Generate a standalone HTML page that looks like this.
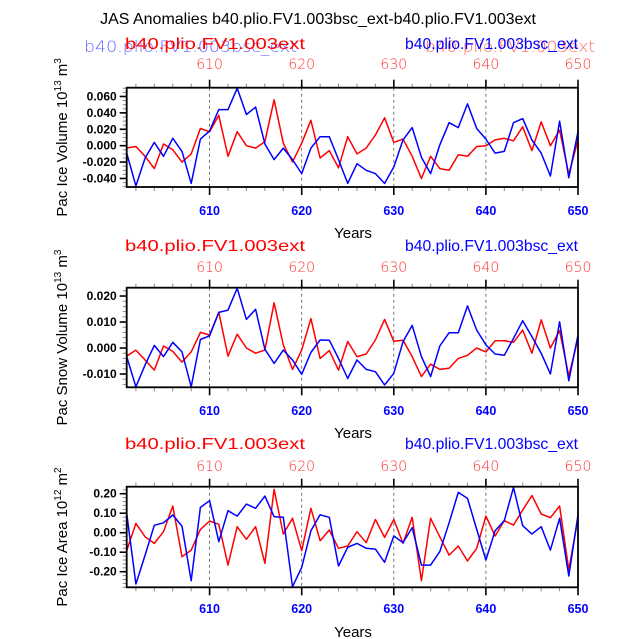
<!DOCTYPE html>
<html><head><meta charset="utf-8"><style>
body{margin:0;background:#fff;}
svg{display:block;font-family:"Liberation Sans",sans-serif;}
</style></head><body>
<svg id="chart" width="638" height="639" viewBox="0 0 638 639" xmlns="http://www.w3.org/2000/svg">
<text x="318" y="24" font-size="16" text-anchor="middle">JAS Anomalies b40.plio.FV1.003bsc_ext-b40.plio.FV1.003ext</text>
</svg>
<script>
const years = [];
for (let y = 601; y <= 650; y++) years.push(y);
const iceVolExt = [-0.003,-0.001,-0.013,-0.028,0.002,-0.005,-0.020,-0.010,0.021,0.017,0.037,-0.013,0.017,0.000,-0.003,0.005,0.056,0.003,-0.020,0.003,0.031,-0.015,-0.006,-0.027,0.011,-0.010,-0.003,0.013,0.034,0.004,0.008,-0.013,-0.040,-0.013,-0.028,-0.030,-0.011,-0.013,-0.001,0.000,0.007,0.009,0.006,0.023,-0.006,0.029,0.000,0.019,-0.035,0.007];
const iceVolBsc = [-0.009,-0.049,-0.015,0.004,-0.013,0.009,-0.007,-0.046,0.008,0.018,0.044,0.044,0.070,0.038,0.047,0.002,-0.017,-0.003,-0.017,-0.034,-0.003,0.011,0.011,-0.017,-0.046,-0.022,-0.030,-0.034,-0.046,-0.026,0.007,0.022,-0.014,-0.034,0.001,0.028,0.022,0.051,0.021,0.008,-0.009,-0.007,0.028,0.033,0.007,-0.009,-0.037,0.030,-0.039,0.017];
const snowVolExt = [-0.0031,-0.0008,-0.0046,-0.0085,0.0008,-0.0013,-0.0054,-0.0015,0.0060,0.0050,0.0137,-0.0031,0.0053,0.0000,-0.0020,-0.0008,0.0174,0.0012,-0.0082,-0.0008,0.0113,-0.0040,-0.0010,-0.0085,0.0025,-0.0033,-0.0023,0.0031,0.0110,0.0026,0.0030,-0.0033,-0.0110,-0.0062,-0.0082,-0.0078,-0.0040,-0.0028,0.0000,-0.0015,0.0028,0.0028,0.0022,0.0069,-0.0020,0.0108,0.0000,0.0067,-0.0108,0.0037];
const snowVolBsc = [-0.0033,-0.0149,-0.0065,0.0010,-0.0033,0.0022,-0.0015,-0.0149,0.0033,0.0047,0.0137,0.0146,0.0230,0.0110,0.0149,-0.0005,-0.0059,-0.0008,-0.0046,-0.0101,-0.0017,0.0031,0.0030,-0.0040,-0.0117,-0.0046,-0.0082,-0.0091,-0.0142,-0.0097,0.0024,0.0087,-0.0033,-0.0110,0.0008,0.0059,0.0059,0.0162,0.0069,0.0012,-0.0023,-0.0028,0.0037,0.0105,0.0044,-0.0020,-0.0100,0.0101,-0.0126,0.0050];
const iceAreaExt = [-0.092,0.048,-0.021,-0.055,0.005,0.137,-0.123,-0.089,0.017,0.060,0.043,-0.166,0.031,-0.034,0.031,-0.157,0.222,-0.007,0.074,-0.092,0.125,-0.041,0.014,-0.080,-0.068,0.005,-0.051,0.068,-0.024,0.068,-0.055,0.079,-0.246,0.074,-0.021,-0.115,-0.068,-0.145,-0.080,0.085,-0.017,0.062,0.039,0.116,0.191,0.096,0.077,0.137,-0.191,0.074];
const iceAreaBsc = [0.099,-0.263,-0.115,0.038,0.051,0.091,0.034,-0.246,0.130,0.164,-0.046,0.113,0.085,0.147,0.125,0.188,0.082,0.079,-0.277,-0.178,0.010,0.092,0.079,-0.171,-0.075,-0.055,-0.080,-0.084,-0.152,-0.017,-0.051,0.026,-0.166,-0.166,-0.097,0.051,0.207,0.176,0.017,-0.140,0.010,0.062,0.232,0.036,-0.007,0.031,-0.089,0.074,-0.222,0.091];
const xTickLabels = ["610","620","630","640","650"];
const iceVolTicks = ["-0.040","-0.020","0.000","0.020","0.040","0.060"];
const snowVolTicks = ["-0.010","0.000","0.010","0.020"];
const iceAreaTicks = ["-0.20","-0.10","0.00","0.10","0.20"];

const NS = "http://www.w3.org/2000/svg";
const svg = document.getElementById('chart');
function mk(tag, attrs, parent, txt){
  const e = document.createElementNS(NS, tag);
  for (const k in attrs) e.setAttribute(k, attrs[k]);
  if (txt !== undefined) e.textContent = txt;
  (parent || svg).appendChild(e);
  return e;
}
const X0 = 126.7, X1 = 578, XMIN = 601, XMAX = 650;
function xs(v){ return X0 + (v - XMIN) * (X1 - X0) / (XMAX - XMIN); }

const panels = [
  {name:'ice-volume', top:87.7, bot:187, ymin:-0.0504, ymax:0.0707, ticks:iceVolTicks, minor:0.005, ext:iceVolExt, bsc:iceVolBsc, title:['Pac Ice Volume 10','13',' m','3'], labY:44, topLabY:69, botLabY:215, yearsY:238, ghost:true},
  {name:'snow-volume', top:287.7, bot:387.3, ymin:-0.0151, ymax:0.0232, ticks:snowVolTicks, minor:0.002, ext:snowVolExt, bsc:snowVolBsc, title:['Pac Snow Volume 10','13',' m','3'], labY:246, topLabY:272, botLabY:415, yearsY:438},
  {name:'ice-area', top:486.7, bot:587.3, ymin:-0.28, ymax:0.236, ticks:iceAreaTicks, minor:0.02, ext:iceAreaExt, bsc:iceAreaBsc, title:['Pac Ice Area 10','12',' m','2'], labY:444, topLabY:471, botLabY:613, yearsY:637}
];

panels.forEach(p => {
  const g = mk('g', {});
  
  
  const ys = v => p.bot - (v - p.ymin) * (p.bot - p.top) / (p.ymax - p.ymin);
  xTickLabels.slice(0,4).forEach(t => {
    const l = mk('line', {x1:xs(+t), x2:xs(+t), y1:p.top, y2:p.bot, stroke:'#555', 'stroke-width':0.8, 'stroke-dasharray':'3,3'}, g);
    
    
  });
  for (let yr = 602; yr <= 650; yr += 2) {
    const major = yr % 10 === 0;
    const len = major ? 8 : 4;
    mk('line', {x1:xs(yr), x2:xs(yr), y1:p.top, y2:p.top-len, stroke:major?'#000':'#888', 'stroke-width':major?1.6:1}, g);
    mk('line', {x1:xs(yr), x2:xs(yr), y1:p.bot, y2:p.bot+len, stroke:major?'#000':'#888', 'stroke-width':major?1.6:1}, g);
  }
  xTickLabels.forEach(t => {
    const a = mk('text', {x:xs(+t), y:p.topLabY, 'font-size':14, fill:'#f33', 'text-anchor':'middle', 'font-family':'DejaVu Sans, sans-serif', 'font-weight':'200'}, g, t);
    
    
    const b = mk('text', {x:xs(+t), y:p.botLabY, 'font-size':12.5, fill:'#00f', 'font-weight':'bold', 'text-anchor':'middle'}, g, t);
    
    
  });
  for (let v = Math.ceil(p.ymin / p.minor) * p.minor; v <= p.ymax + 1e-9; v += p.minor) {
    mk('line', {x1:X0, x2:X0-4, y1:ys(v), y2:ys(v), stroke:'#888', 'stroke-width':1}, g);
  }
  p.ticks.forEach(t => {
    const v = parseFloat(t);
    mk('line', {x1:X0, x2:X0-7, y1:ys(v), y2:ys(v), stroke:'#000', 'stroke-width':1.6}, g);
    const tl = mk('text', {x:X0-10, y:ys(v)+4, 'font-size':12, 'font-weight':'bold', 'text-anchor':'end'}, g, t);
    
    
  });
  [[p.ext, '#f00', 'series-ext'], [p.bsc, '#00f', 'series-bsc']].forEach(([arr, col, nm]) => {
    const pts = arr.map((v, i) => xs(years[i]).toFixed(1) + ',' + ys(v).toFixed(1)).join(' ');
    const pl = mk('polyline', {points:pts, fill:'none', stroke:col, 'stroke-width':1.5, 'stroke-linejoin':'round'}, g);
    
    
  });
  const fr = mk('rect', {x:X0, y:p.top, width:X1-X0, height:p.bot-p.top, fill:'none', stroke:'#000', 'stroke-width':1.8}, g);
  
  
  if (p.ghost) {
    mk('text', {x:84, y:p.labY+8, 'font-size':16, fill:'#66f', 'font-family':'DejaVu Sans, sans-serif', 'font-weight':'200', textLength:213, lengthAdjust:'spacingAndGlyphs'}, g, 'b40.plio.FV1.003bsc_ext');
    mk('text', {x:425, y:p.labY+8, 'font-size':16, fill:'#f66', 'font-family':'DejaVu Sans, sans-serif', 'font-weight':'200', textLength:170, lengthAdjust:'spacingAndGlyphs'}, g, 'b40.plio.FV1.003ext');
  }
  const lr = mk('text', {x:125, y:p.labY+5, 'font-size':16, fill:'#f00', textLength:180, lengthAdjust:'spacingAndGlyphs'}, g, 'b40.plio.FV1.003ext');
  
  
  const lb = mk('text', {x:405, y:p.labY+5, 'font-size':16, fill:'#00f', textLength:173, lengthAdjust:'spacingAndGlyphs'}, g, 'b40.plio.FV1.003bsc_ext');
  
  
  const yr = mk('text', {x:353, y:p.yearsY, 'font-size':15, 'text-anchor':'middle'}, g, 'Years');
  
  
  const cy = (p.top + p.bot) / 2;
  const yt = mk('text', {x:0, y:0, 'font-size':15, 'text-anchor':'middle', transform:'translate(67,' + cy + ') rotate(-90)'}, g);
  
  
  mk('tspan', {}, yt, p.title[0]);
  mk('tspan', {dy:-6, 'font-size':10}, yt, p.title[1]);
  mk('tspan', {dy:6}, yt, p.title[2]);
  mk('tspan', {dy:-6, 'font-size':10}, yt, p.title[3]);
});
</script>
</body></html>
